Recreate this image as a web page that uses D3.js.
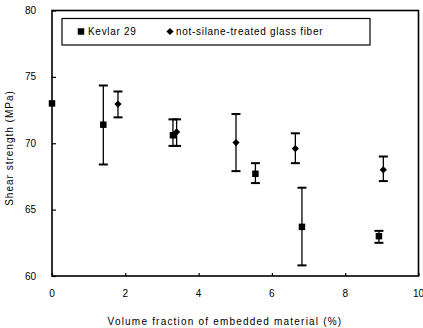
<!DOCTYPE html>
<html>
<head>
<meta charset="utf-8">
<script src="https://cdn.jsdelivr.net/npm/d3@7"></script>
<style>
  body { margin: 0; background: #fff; }
  svg { display: block; font-family: "Liberation Sans", Arial, sans-serif; }
</style>
</head>
<body>
<script>
// data
var kevlarX   = [0, 1.4, 3.3, 5.55, 6.82, 8.92];
var kevlarY   = [73.0, 71.4, 70.6, 67.7, 63.7, 63.0];
var kevlarLo  = [73.0, 68.4, 69.8, 67.0, 60.8, 62.5];
var kevlarHi  = [73.0, 74.35, 71.8, 68.5, 66.65, 63.4];

var glassX  = [1.8, 3.4, 5.02, 6.64, 9.04];
var glassY  = [72.95, 70.85, 70.05, 69.6, 68.0];
var glassLo = [71.95, 69.8, 67.9, 68.5, 67.15];
var glassHi = [73.9, 71.8, 72.2, 70.75, 69.0];

var xTicks = [0, 2, 4, 6, 8, 10];
var yTicks = [60, 65, 70, 75, 80];

var width = 423, height = 328;
var plotL = 52, plotR = 418.5, plotT = 10.5, plotB = 276;

var svg = d3.select('body').append('svg')
  .attr('width', width)
  .attr('height', height);

var x = d3.scaleLinear().domain([0, 10]).range([plotL, plotR]);
var y = d3.scaleLinear().domain([60, 80]).range([plotB, plotT]);

// frame
svg.append('rect')
  .attr('x', plotL).attr('y', plotT)
  .attr('width', plotR - plotL).attr('height', plotB - plotT)
  .attr('fill', 'none').attr('stroke', '#000').attr('stroke-width', 1.6);

// axes with inward ticks, labels drawn separately
var yAxis = svg.append('g')
  .attr('transform', 'translate(' + plotL + ',0)')
  .call(d3.axisRight(y).tickValues(yTicks).tickSize(4).tickFormat(''));
yAxis.select('.domain').remove();
yAxis.selectAll('line').attr('stroke-width', 1.2);

var xAxis = svg.append('g')
  .attr('transform', 'translate(0,' + plotB + ')')
  .call(d3.axisTop(x).tickValues(xTicks).tickSize(3).tickFormat(''));
xAxis.select('.domain').remove();
xAxis.selectAll('line').attr('stroke-width', 1.2);

svg.selectAll('.ylab')
  .data(yTicks)
  .enter()
  .append('text')
  .attr('class', 'ylab')
  .attr('x', 36)
  .attr('y', function(d) { return y(d) + 3.5; })
  .attr('text-anchor', 'end')
  .attr('font-size', 10)
  .text(function(d) { return d; });

svg.selectAll('.xlab')
  .data(xTicks)
  .enter()
  .append('text')
  .attr('class', 'xlab')
  .attr('x', function(d) { return x(d); })
  .attr('y', 297)
  .attr('text-anchor', 'middle')
  .attr('font-size', 10)
  .text(function(d) { return d; });

svg.append('text')
  .attr('x', 225).attr('y', 325)
  .attr('text-anchor', 'middle')
  .attr('font-size', 10)
  .attr('letter-spacing', 1.2)
  .text('Volume fraction of embedded material (%)');

svg.append('text')
  .attr('transform', 'translate(13,' + 148 + ') rotate(-90)')
  .attr('text-anchor', 'middle')
  .attr('font-size', 10)
  .attr('letter-spacing', 1)
  .text('Shear strength (MPa)');

// error bars
function errorBars(xs, lo, hi) {
  var g = svg.append('g').attr('stroke', '#000');
  xs.forEach(function(v, i) {
    if (lo[i] === hi[i]) return;
    g.append('line')
      .attr('x1', x(v)).attr('x2', x(v))
      .attr('y1', y(lo[i])).attr('y2', y(hi[i]))
      .attr('stroke-width', 1.3);
    [lo[i], hi[i]].forEach(function(e) {
      g.append('line')
        .attr('x1', x(v) - 4.5).attr('x2', x(v) + 4.5)
        .attr('y1', y(e)).attr('y2', y(e))
        .attr('stroke-width', 2);
    });
  });
}
errorBars(kevlarX, kevlarLo, kevlarHi);
errorBars(glassX, glassLo, glassHi);

var sq = d3.symbol().type(d3.symbolSquare).size(42);
var dm = d3.symbol().type(d3.symbolSquare).size(26);

svg.selectAll('.kev')
  .data(kevlarX)
  .enter()
  .append('path')
  .attr('class', 'kev')
  .attr('d', sq)
  .attr('transform', function(d, i) { return 'translate(' + x(d) + ',' + y(kevlarY[i]) + ')'; })
  .attr('fill', '#000');

svg.selectAll('.gla')
  .data(glassX)
  .enter()
  .append('path')
  .attr('class', 'gla')
  .attr('d', dm)
  .attr('transform', function(d, i) { return 'translate(' + x(d) + ',' + y(glassY[i]) + ') rotate(45)'; })
  .attr('fill', '#000');

// legend
var lg = svg.append('g');
lg.append('rect')
  .attr('x', 62).attr('y', 18.5)
  .attr('width', 308).attr('height', 26.5)
  .attr('fill', '#fff').attr('stroke', '#000').attr('stroke-width', 1.2);
lg.append('path').attr('d', sq).attr('transform', 'translate(81,31.5)').attr('fill', '#000');
lg.append('text').attr('x', 88).attr('y', 35).attr('font-size', 10).attr('letter-spacing', 0.7).text('Kevlar 29');
lg.append('path').attr('d', dm).attr('transform', 'translate(170,31.5) rotate(45)').attr('fill', '#000');
lg.append('text').attr('x', 176).attr('y', 35).attr('font-size', 10).attr('letter-spacing', 0.7).text('not-silane-treated glass fiber');
</script>
</body>
</html>
